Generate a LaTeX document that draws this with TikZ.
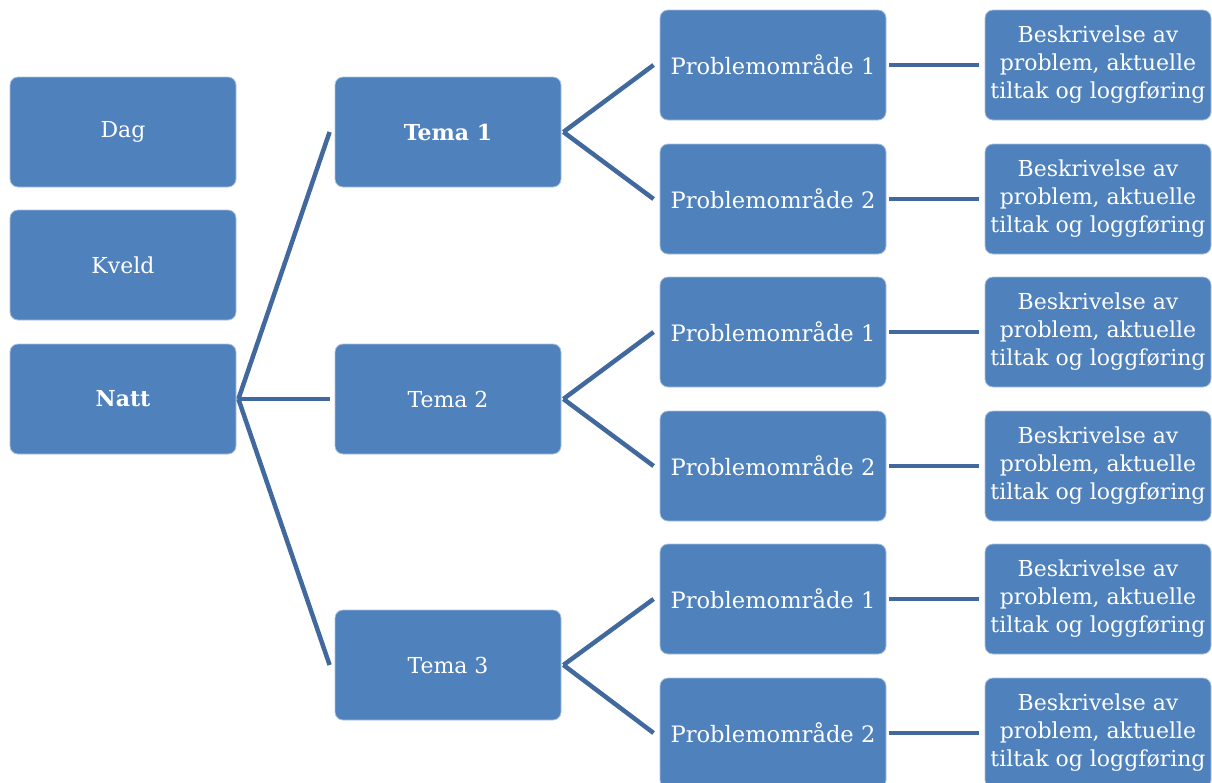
\documentclass[tikz,border=0pt]{standalone}
\usepackage{fontspec}
\usetikzlibrary{calc}
\newfontfamily\boxfont{DejaVu Serif}
\definecolor{boxblue}{HTML}{4F81BD}
\definecolor{boxedge}{HTML}{A9C0DF}
\definecolor{linkblue}{HTML}{41699D}
\begin{document}
\begin{tikzpicture}[x=1pt,y=-1pt,
  bx/.style={draw=boxedge, line width=0.8pt, fill=boxblue, rounded corners=8pt,
    minimum width=226pt, minimum height=110pt, inner sep=0pt, text=white,
    align=center, font=\boxfont\fontsize{22}{28}\selectfont},
  link/.style={draw=linkblue, line width=4.5pt}]
\useasboundingbox (0,0) rectangle (1212,782);
\clip (0,0) rectangle (1212,782);
% left column
\node[bx] (dag) at (123,132) {Dag};
\node[bx] (kveld) at (123,265) {Kveld};
\node[bx] (natt) at (123,399) {\bfseries Natt};
% tema column
\node[bx] (t1) at (448,132) {\bfseries Tema 1};
\node[bx] (t2) at (448,399) {Tema 2};
\node[bx] (t3) at (448,665) {Tema 3};
% problem column
\foreach \i/\y/\n in {1/65/1,2/199/2,3/332/1,4/466/2,5/599/1,6/733/2}{
  \node[bx,font=\boxfont\fontsize{22.6}{28}\selectfont] (p\i) at (773,\y) {Problemområde \n};
  \node[bx] (d\i) at (1098,\y) {Beskrivelse av\\problem, aktuelle\\tiltak og loggføring};
}
% connectors
\foreach \t in {t1,t2,t3}{
  \draw[link] ($(natt.east)+(2,0)$) -- ($(\t.west)+(-5,0)$);
}
\foreach \t/\a/\b in {t1/p1/p2,t2/p3/p4,t3/p5/p6}{
  \draw[link] ($(\t.east)+(2,0)$) -- ($(\a.west)+(-6,0)$);
  \draw[link] ($(\t.east)+(2,0)$) -- ($(\b.west)+(-6,0)$);
}
\foreach \i in {1,...,6}{
  \draw[link] ($(p\i.east)+(3,0)$) -- ($(d\i.west)+(-6,0)$);
}
\end{tikzpicture}
\end{document}
